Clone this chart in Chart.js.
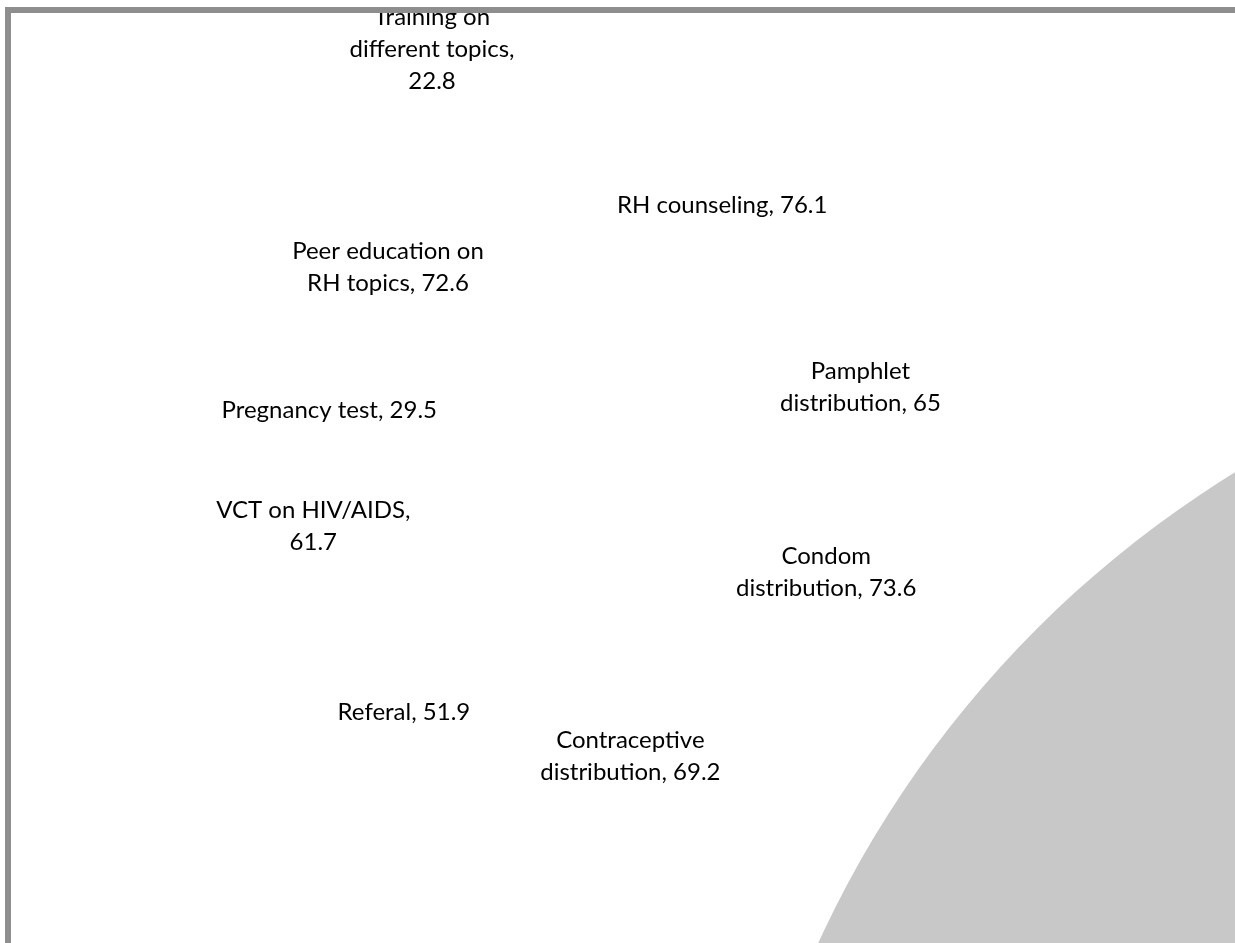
<!DOCTYPE html>
<html>
<head>
<meta charset="utf-8">
<script src="https://cdn.jsdelivr.net/npm/chart.js@4.4.1/dist/chart.umd.min.js"></script>
<style>
  html, body { margin: 0; padding: 0; background: #fff; overflow: hidden; }
  #frame {
    position: absolute; left: 5px; top: 7px;
    width: 1260px; height: 960px;
    border: 6px solid #8e8e8e;
    overflow: hidden; background: #fff;
  }
  #chart { display: block; }
</style>
</head>
<body>
<div id="frame"><canvas id="chart" width="1224" height="930"></canvas></div>
<script>
/* Services offered (%) */
var categories = ['Training on different topics', 'RH counseling', 'Peer education on RH topics',
  'Pamphlet distribution', 'Pregnancy test', 'VCT on HIV/AIDS', 'Condom distribution',
  'Referal', 'Contraceptive distribution'];
var values = [22.8, 76.1, 72.6, 65, 29.5, 61.7, 73.6, 51.9, 69.2];

/* where each bubble sits on the (hidden) 0-100 axes */
var xValues = [34.4, 58.1, 30.8, 69.4, 26.0, 24.7, 66.6, 32.1, 50.6];
var yValues = [3.9, 20.6, 27.3, 40.2, 42.7, 55.2, 60.1, 75.2, 79.9];

/* label wraps: line break after n words */
var wrapAfter = [[2, 4], [], [3], [1], [], [3], [1], [], [1]];

/* the big grey bubble, mostly outside the visible window */
var bigBubble = { x: 146.3, y: 148.5, r: 1082 };

function labelLines(i) {
  var words = (categories[i] + ', ' + values[i]).split(' ');
  var lines = [], cur = [];
  words.forEach(function(w, k) {
    cur.push(w);
    if (wrapAfter[i].indexOf(k + 1) !== -1) { lines.push(cur.join(' ')); cur = []; }
  });
  if (cur.length) lines.push(cur.join(' '));
  return lines;
}

var bubblePoints = [];
for (var i = 0; i < categories.length; i++) {
  bubblePoints.push({ x: xValues[i], y: yValues[i], r: 1 });
}

/* draws the data labels centred on each bubble */
var labelPlugin = {
  id: 'bubbleLabels',
  afterDatasetsDraw: function(chart) {
    var ctx = chart.ctx;
    var meta = chart.getDatasetMeta(1);
    var lh = 32;
    ctx.save();
    ctx.font = '24px Lato';
    ctx.fillStyle = '#000';
    ctx.textAlign = 'center';
    ctx.textBaseline = 'alphabetic';
    meta.data.forEach(function(pt, idx) {
      var lines = labelLines(idx);
      lines.forEach(function(line, k) {
        var y = pt.y + (k - (lines.length - 1) / 2) * lh + 8;
        ctx.fillText(line, pt.x, y);
      });
    });
    ctx.restore();
  }
};

var chart = new Chart(document.getElementById('chart'), {
  type: 'bubble',
  data: {
    datasets: [
      {
        label: 'background',
        data: [bigBubble],
        backgroundColor: '#c8c8c8',
        borderWidth: 0,
        clip: false
      },
      {
        label: 'Services',
        data: bubblePoints,
        backgroundColor: 'rgba(255,255,255,0)',
        borderWidth: 0
      }
    ]
  },
  options: {
    responsive: false,
    animation: false,
    events: [],
    layout: { padding: 0, autoPadding: false },
    plugins: { legend: { display: false }, tooltip: { enabled: false } },
    scales: {
      x: { type: 'linear', min: 0, max: 100, display: false },
      y: { type: 'linear', min: 0, max: 100, reverse: true, display: false }
    }
  },
  plugins: [labelPlugin]
});
</script>
</body>
</html>
